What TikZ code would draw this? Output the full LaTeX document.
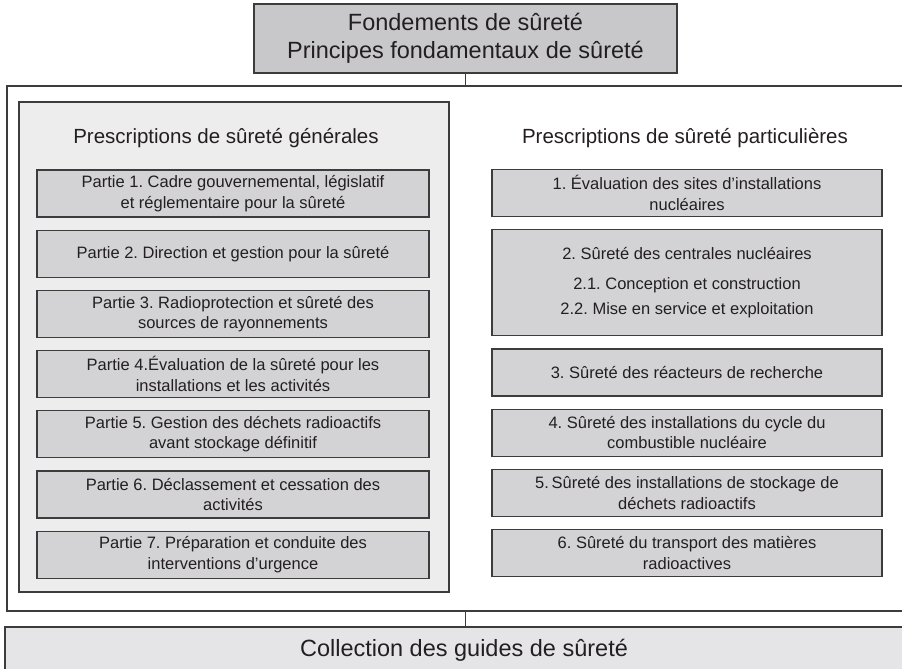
\documentclass[tikz,border=0pt]{standalone}
\usepackage{fontspec}
\setmainfont{Liberation Sans}
\usepackage{tikz}
\usetikzlibrary{positioning}
\frenchspacing

\definecolor{edgegray}{RGB}{60,60,60}
\definecolor{inkgray}{RGB}{35,31,32}
\definecolor{topgray}{RGB}{200,200,202}
\definecolor{boxgray}{RGB}{211,211,213}
\definecolor{panelgray}{RGB}{237,237,237}
\definecolor{guidegray}{RGB}{229,229,231}

\begin{document}
\begin{tikzpicture}[x=1pt, y=-1pt, node distance=12pt, line width=1.2pt, text=inkgray]
            \tikzstyle{every node}=[inner sep=0pt, align=center]
            \tikzstyle{bigbox}=[draw=edgegray, font=\fontsize{23.5}{28}\selectfont]
            \tikzstyle{heading}=[font=\fontsize{20.5}{24}\selectfont]
            \tikzstyle{partbox}=[draw=edgegray, fill=boxgray, minimum width=392pt, minimum height=47pt, font=\fontsize{16.5}{20.5}\selectfont]
            \tikzstyle{specbox}=[partbox, minimum width=390pt]

            \clip (0,0) rectangle (902,669);

            \node[bigbox, fill=topgray, minimum width=423pt, minimum height=69pt] (fond) at (465.5,38.5) {Fondements de sûreté\\Principes fondamentaux de sûreté};
            \node[draw=edgegray, minimum width=916pt, minimum height=525pt] (frame) at (465,348.5) {};
            \node[draw=edgegray, fill=panelgray, minimum width=430pt, minimum height=490pt] (panel) at (234,347) {};
            \node[bigbox, fill=guidegray, minimum width=918pt, minimum height=46pt] (guides) at (464,650) {Collection des guides de sûreté};

            \node[heading] (gen) at (226,138) {Prescriptions de sûreté générales};
            \node[heading] (part) at (685,138) {Prescriptions de sûreté particulières};

            \node[partbox] (p1) at (233,193.5) {Partie 1. Cadre gouvernemental, législatif\\ et réglementaire pour la sûreté};
            \node[partbox] (p2) [below=of p1] {Partie 2. Direction et gestion pour la sûreté};
            \node[partbox] (p3) [below=of p2] {Partie 3. Radioprotection et sûreté des\\ sources de rayonnements};
            \node[partbox] (p4) [below=of p3] {Partie 4.Évaluation de la sûreté pour les\\installations et les activités};
            \node[partbox] (p5) [below=of p4] {Partie 5. Gestion des déchets radioactifs\\avant stockage définitif};
            \node[partbox] (p6) [below=of p5] {Partie 6. Déclassement et cessation des\\activités};
            \node[partbox] (p7) [below=of p6] {Partie 7. Préparation et conduite des\\interventions d’urgence};

            \node[specbox] (s1) at (687,193) {1. Évaluation des sites d’installations\\nucléaires};
            \node[specbox, minimum height=106pt, font=\fontsize{16.5}{25}\selectfont] (s2) [below=of s1] {2. Sûreté des centrales nucléaires\\[5pt]2.1. Conception et construction\\2.2. Mise en service et exploitation};
            \node[specbox] (s3) [below=of s2] {3. Sûreté des réacteurs de recherche};
            \node[specbox] (s4) [below=of s3] {4. Sûreté des installations du cycle du\\combustible nucléaire};
            \node[specbox] (s5) [below=of s4] {5.\,Sûreté des installations de stockage de\\déchets radioactifs};
            \node[specbox] (s6) [below=of s5] {6. Sûreté du transport des matières\\radioactives};

            \draw[edgegray, line width=1pt] (fond.south) -- (fond.south |- frame.north);
            \draw[edgegray, line width=1pt] (frame.south) -- (frame.south |- guides.north);
\end{tikzpicture}
\end{document}
